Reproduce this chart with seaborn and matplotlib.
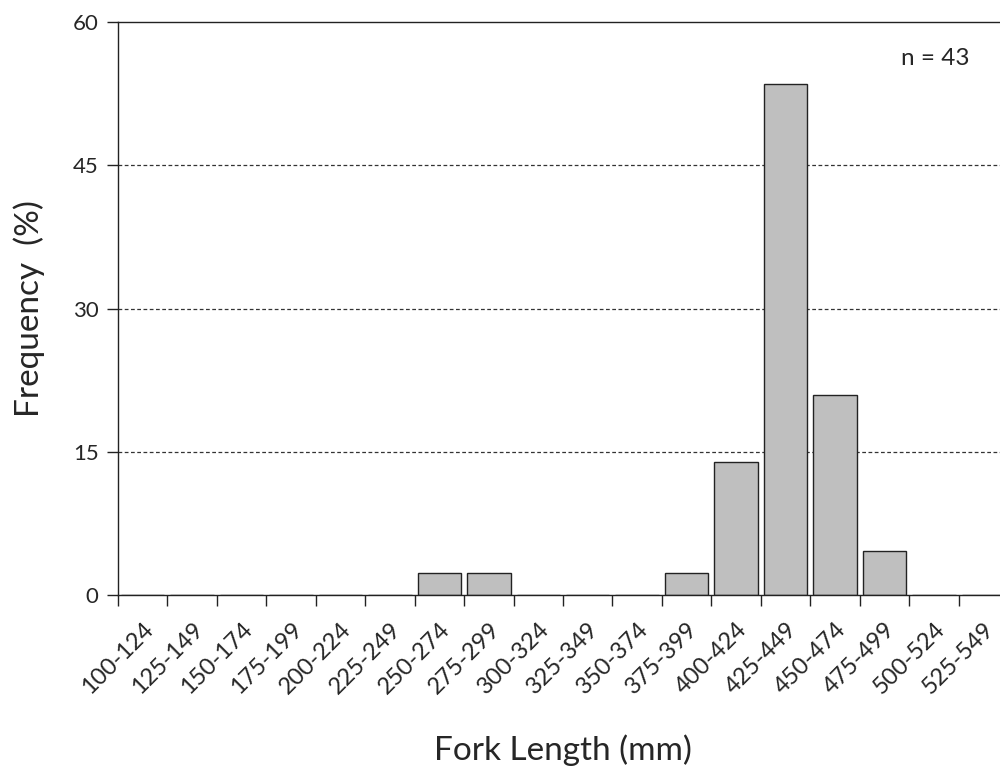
import numpy as np
import pandas as pd
import seaborn as sns
import matplotlib
matplotlib.use("Agg")
import matplotlib.pyplot as plt
from matplotlib.ticker import FixedLocator

bins = ["100-124", "125-149", "150-174", "175-199", "200-224", "225-249",
        "250-274", "275-299", "300-324", "325-349", "350-374", "375-399",
        "400-424", "425-449", "450-474", "475-499", "500-524", "525-549"]
freq = [0, 0, 0, 0, 0, 0,
        2.33, 2.33, 0, 0, 0, 2.33,
        13.95, 53.49, 20.93, 4.65, 0, 0]
n_fish = 43

df = pd.DataFrame({"Bin": bins, "Frequency": freq})

sns.set_style("white")
plt.rcParams["font.family"] = ["Lato", "DejaVu Sans"]

fig = plt.figure(figsize=(10, 7.66), dpi=100)
ax = fig.add_axes([0.118, 0.2232, 0.89, 0.7481])

sns.barplot(data=df, x="Bin", y="Frequency", order=bins, color="#bfbfbf",
            edgecolor="#222222", linewidth=1.0, width=0.88, saturation=1, ax=ax)

ax.set_xlim(-0.5, len(bins) - 0.5)
ax.set_ylim(0, 60)
ax.set_yticks([0, 15, 30, 45, 60])
for v in [15, 30, 45]:
    ax.axhline(v, color="#333333", linestyle=(0, (3, 2)), linewidth=0.9, zorder=0)

# ticks on bin boundaries, labels on bin centres
ax.set_xticks(range(len(bins)))
ax.set_xticklabels(bins, rotation=45, ha="right", rotation_mode="anchor", fontsize=17)
ax.xaxis.set_minor_locator(FixedLocator(np.arange(len(bins)) - 0.5))
ax.tick_params(axis="x", which="major", bottom=True, length=0, pad=17)
ax.tick_params(axis="x", which="minor", bottom=True, length=8, width=1,
               color="#222222", direction="out")
ax.tick_params(axis="y", left=True, length=8, width=1, color="#222222",
               direction="out", labelsize=16, pad=6)

for side in ["left", "bottom", "top"]:
    ax.spines[side].set_color("#222222")
    ax.spines[side].set_linewidth(1.0)
ax.spines["right"].set_visible(False)

ax.set_xlabel("Fork Length (mm)", fontsize=24, labelpad=26)
ax.set_ylabel("Frequency  (%)", fontsize=24, labelpad=20)
ax.text(0.957, 0.937, f"n = {n_fish}", transform=ax.transAxes, ha="right",
        va="center", fontsize=17.5)

fig.savefig("out.png", dpi=100)
